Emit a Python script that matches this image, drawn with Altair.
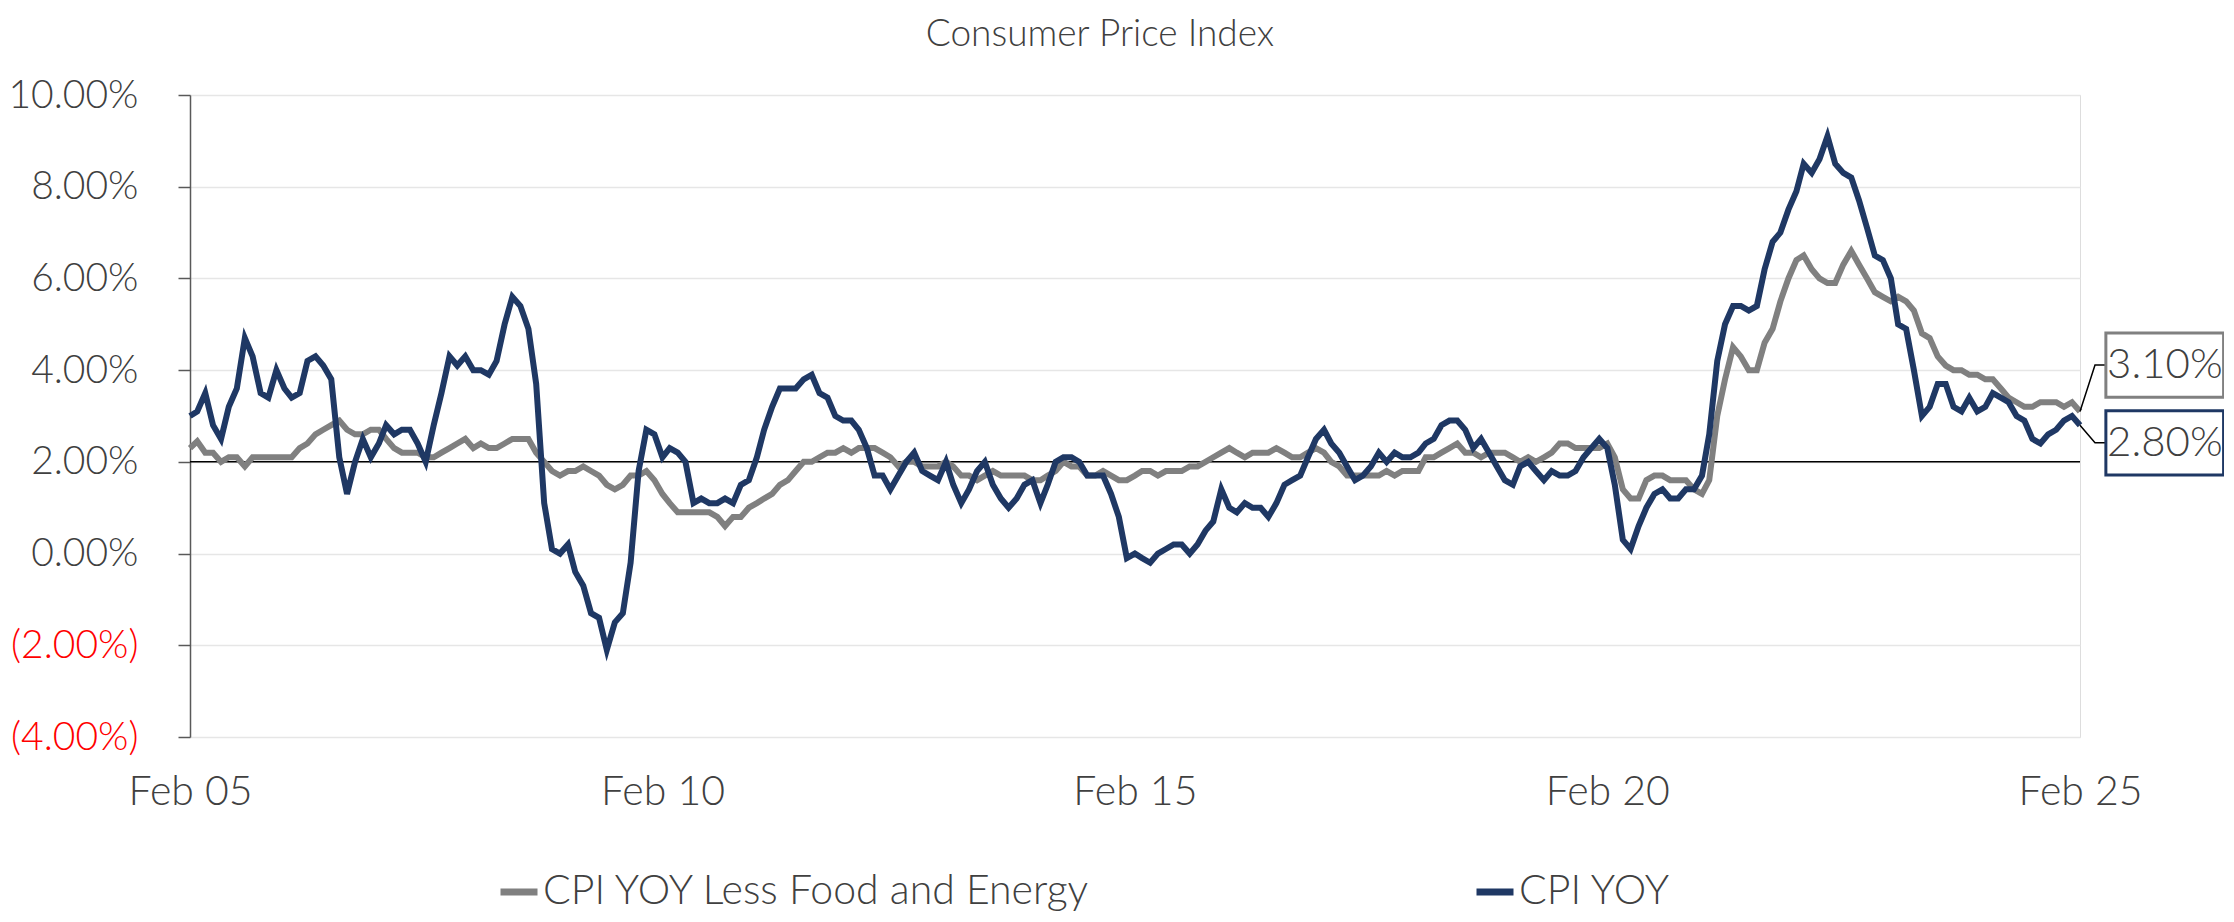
import altair as alt
import pandas as pd

TITLE = "Consumer Price Index"
SERIES = ["CPI YOY Less Food and Energy", "CPI YOY"]
COLORS = ["#808080", "#1F3864"]
START = "2005-02-01"
TICK_YEARS = [2005, 2010, 2015, 2020, 2025]
Y_TICKS = [-4, -2, 0, 2, 4, 6, 8, 10]

# CPI YoY (%), monthly Feb 2005 .. Feb 2025
cpi_yoy = [
    3.0, 3.1, 3.5, 2.8, 2.5, 3.2, 3.6, 4.7, 4.3, 3.5, 3.4,            # 2005 Feb-Dec
    4.0, 3.6, 3.4, 3.5, 4.2, 4.3, 4.1, 3.8, 2.1, 1.3, 2.0, 2.5,       # 2006
    2.1, 2.4, 2.8, 2.6, 2.7, 2.7, 2.4, 2.0, 2.8, 3.5, 4.3, 4.1,       # 2007
    4.3, 4.0, 4.0, 3.9, 4.2, 5.0, 5.6, 5.4, 4.9, 3.7, 1.1, 0.1,       # 2008
    0.0, 0.2, -0.4, -0.7, -1.3, -1.4, -2.1, -1.5, -1.3, -0.2, 1.8, 2.7,  # 2009
    2.6, 2.1, 2.3, 2.2, 2.0, 1.1, 1.2, 1.1, 1.1, 1.2, 1.1, 1.5,       # 2010
    1.6, 2.1, 2.7, 3.2, 3.6, 3.6, 3.6, 3.8, 3.9, 3.5, 3.4, 3.0,       # 2011
    2.9, 2.9, 2.7, 2.3, 1.7, 1.7, 1.4, 1.7, 2.0, 2.2, 1.8, 1.7,       # 2012
    1.6, 2.0, 1.5, 1.1, 1.4, 1.8, 2.0, 1.5, 1.2, 1.0, 1.2, 1.5,       # 2013
    1.6, 1.1, 1.5, 2.0, 2.1, 2.1, 2.0, 1.7, 1.7, 1.7, 1.3, 0.8,       # 2014
    -0.1, 0.0, -0.1, -0.2, 0.0, 0.1, 0.2, 0.2, 0.0, 0.2, 0.5, 0.7,    # 2015
    1.4, 1.0, 0.9, 1.1, 1.0, 1.0, 0.8, 1.1, 1.5, 1.6, 1.7, 2.1,       # 2016
    2.5, 2.7, 2.4, 2.2, 1.9, 1.6, 1.7, 1.9, 2.2, 2.0, 2.2, 2.1,       # 2017
    2.1, 2.2, 2.4, 2.5, 2.8, 2.9, 2.9, 2.7, 2.3, 2.5, 2.2, 1.9,       # 2018
    1.6, 1.5, 1.9, 2.0, 1.8, 1.6, 1.8, 1.7, 1.7, 1.8, 2.1, 2.3,       # 2019
    2.5, 2.3, 1.5, 0.3, 0.1, 0.6, 1.0, 1.3, 1.4, 1.2, 1.2, 1.4,       # 2020
    1.4, 1.7, 2.6, 4.2, 5.0, 5.4, 5.4, 5.3, 5.4, 6.2, 6.8, 7.0,       # 2021
    7.5, 7.9, 8.5, 8.3, 8.6, 9.1, 8.5, 8.3, 8.2, 7.7, 7.1, 6.5,       # 2022
    6.4, 6.0, 5.0, 4.9, 4.0, 3.0, 3.2, 3.7, 3.7, 3.2, 3.1, 3.4,       # 2023
    3.1, 3.2, 3.5, 3.4, 3.3, 3.0, 2.9, 2.5, 2.4, 2.6, 2.7, 2.9,       # 2024
    3.0, 2.8,                                                         # 2025 Jan-Feb
]

# Core CPI YoY (%), monthly Feb 2005 .. Feb 2025
core_yoy = [
    2.3, 2.45, 2.2, 2.2, 2.0, 2.1, 2.1, 1.9, 2.1, 2.1, 2.1,           # 2005 Feb-Dec
    2.1, 2.1, 2.1, 2.3, 2.4, 2.6, 2.7, 2.8, 2.9, 2.7, 2.6, 2.6,       # 2006
    2.7, 2.7, 2.5, 2.3, 2.2, 2.2, 2.2, 2.1, 2.1, 2.2, 2.3, 2.4,       # 2007
    2.5, 2.3, 2.4, 2.3, 2.3, 2.4, 2.5, 2.5, 2.5, 2.2, 2.0, 1.8,       # 2008
    1.7, 1.8, 1.8, 1.9, 1.8, 1.7, 1.5, 1.4, 1.5, 1.7, 1.7, 1.8,       # 2009
    1.6, 1.3, 1.1, 0.9, 0.9, 0.9, 0.9, 0.9, 0.8, 0.6, 0.8, 0.8,       # 2010
    1.0, 1.1, 1.2, 1.3, 1.5, 1.6, 1.8, 2.0, 2.0, 2.1, 2.2, 2.2,       # 2011
    2.3, 2.2, 2.3, 2.3, 2.3, 2.2, 2.1, 1.9, 2.0, 2.0, 1.9, 1.9,       # 2012
    1.9, 2.0, 1.9, 1.7, 1.7, 1.6, 1.7, 1.8, 1.7, 1.7, 1.7, 1.7,       # 2013
    1.6, 1.6, 1.7, 1.8, 2.0, 1.9, 1.9, 1.7, 1.7, 1.8, 1.7, 1.6,       # 2014
    1.6, 1.7, 1.8, 1.8, 1.7, 1.8, 1.8, 1.8, 1.9, 1.9, 2.0, 2.1,       # 2015
    2.2, 2.3, 2.2, 2.1, 2.2, 2.2, 2.2, 2.3, 2.2, 2.1, 2.1, 2.2,       # 2016
    2.3, 2.2, 2.0, 1.9, 1.7, 1.7, 1.7, 1.7, 1.7, 1.8, 1.7, 1.8,       # 2017
    1.8, 1.8, 2.1, 2.1, 2.2, 2.3, 2.4, 2.2, 2.2, 2.1, 2.2, 2.2,       # 2018
    2.2, 2.1, 2.0, 2.1, 2.0, 2.1, 2.2, 2.4, 2.4, 2.3, 2.3, 2.3,       # 2019
    2.3, 2.4, 2.1, 1.4, 1.2, 1.2, 1.6, 1.7, 1.7, 1.6, 1.6, 1.6,       # 2020
    1.4, 1.3, 1.6, 3.0, 3.8, 4.5, 4.3, 4.0, 4.0, 4.6, 4.9, 5.5,       # 2021
    6.0, 6.4, 6.5, 6.2, 6.0, 5.9, 5.9, 6.3, 6.6, 6.3, 6.0, 5.7,       # 2022
    5.6, 5.5, 5.6, 5.5, 5.3, 4.8, 4.7, 4.3, 4.1, 4.0, 4.0, 3.9,       # 2023
    3.9, 3.8, 3.8, 3.6, 3.4, 3.3, 3.2, 3.2, 3.3, 3.3, 3.3, 3.2,       # 2024
    3.3, 3.1,                                                         # 2025 Jan-Feb
]

FONT = "Lato"
WEIGHT = 300
TEXT_COLOR = "#404040"

dates = pd.date_range(START, periods=len(cpi_yoy), freq="MS")
df = pd.concat([
    pd.DataFrame({"date": dates, "value": core_yoy, "series": SERIES[0]}),
    pd.DataFrame({"date": dates, "value": cpi_yoy, "series": SERIES[1]}),
], ignore_index=True)

last_date = dates[-1]
last_vals = [core_yoy[-1], cpi_yoy[-1]]
centers = [last_vals[0] + 1.01, last_vals[1] - 0.385]

ann = pd.DataFrame({
    "series": SERIES,
    "label": [f"{v:.2f}%" for v in last_vals],
    "center": centers,
    "y1": [c - 0.70 for c in centers],
    "y2": [c + 0.70 for c in centers],
    "x1": [last_date + pd.Timedelta(days=100)] * 2,
    "x2": [last_date + pd.Timedelta(days=555)] * 2,
    "xt": [last_date + pd.Timedelta(days=328)] * 2,
})

leader_rows = []
for s, v, c in zip(SERIES, last_vals, centers):
    leader_rows += [
        {"series": s, "step": 0, "date": last_date, "value": v},
        {"series": s, "step": 1, "date": last_date + pd.Timedelta(days=58), "value": c},
        {"series": s, "step": 2, "date": last_date + pd.Timedelta(days=100), "value": c},
    ]
leaders = pd.DataFrame(leader_rows)

x_scale = alt.Scale(
    domain=[alt.DateTime(year=2005, month=2, date=1), alt.DateTime(year=2025, month=2, date=1)],
    nice=False,
)
y_scale = alt.Scale(domain=[-4, 10], nice=False, zero=False)
color_scale = alt.Scale(domain=SERIES, range=COLORS)

x_axis = alt.Axis(
    values=[alt.DateTime(year=y, month=2, date=1) for y in TICK_YEARS],
    format="%b %y", title=None, grid=False, ticks=False, domain=False,
    labelFont=FONT, labelFontWeight=WEIGHT, labelFontSize=41, labelColor=TEXT_COLOR,
    labelPadding=35, labelFlush=False, labelOverlap=False,
)
y_axis = alt.Axis(
    values=Y_TICKS, title=None,
    labelExpr="datum.value < 0 ? '(' + format(-datum.value, '.2f') + '%)' : format(datum.value, '.2f') + '%'",
    labelColor={"condition": {"test": "datum.value < 0", "value": "#ff0000"}, "value": TEXT_COLOR},
    labelFont=FONT, labelFontWeight=WEIGHT, labelFontSize=39, labelPadding=40,
    tickSize=12, tickColor="#595959", tickWidth=1.5,
    domainColor="#595959", domainWidth=1.5,
    grid=True, gridColor="#e6e6e6", gridWidth=1.5,
)

lines = alt.Chart(df).mark_line(strokeWidth=6).encode(
    x=alt.X("date:T", scale=x_scale, axis=x_axis),
    y=alt.Y("value:Q", scale=y_scale, axis=y_axis),
    color=alt.Color(
        "series:N", scale=color_scale, sort=SERIES,
        legend=alt.Legend(
            title=None, orient="none", legendX=307, legendY=775,
            direction="horizontal", symbolType="stroke", symbolSize=1369,
            symbolStrokeWidth=7, labelFont=FONT, labelFontWeight=WEIGHT,
            labelFontSize=41, labelColor=TEXT_COLOR, labelLimit=1200,
            columnPadding=370, labelOffset=2, padding=0,
        ),
    ),
)

base_rule = alt.Chart(pd.DataFrame({"y": [2]})).mark_rule(
    color="black", strokeWidth=1.5
).encode(y=alt.Y("y:Q", scale=y_scale))

leader_lines = alt.Chart(leaders).mark_line(color="black", strokeWidth=1.5).encode(
    x=alt.X("date:T", scale=x_scale),
    y=alt.Y("value:Q", scale=y_scale),
    detail="series:N",
    order="step:Q",
)

boxes = alt.Chart(ann).mark_rect(fill="white", strokeWidth=3).encode(
    x=alt.X("x1:T", scale=x_scale), x2="x2:T",
    y=alt.Y("y1:Q", scale=y_scale), y2="y2:Q",
    stroke=alt.Stroke("series:N", scale=color_scale, legend=None),
)

box_text = alt.Chart(ann).mark_text(
    font=FONT, fontWeight=WEIGHT, fontSize=42, color=TEXT_COLOR,
    align="center", baseline="middle"
).encode(
    x=alt.X("xt:T", scale=x_scale),
    y=alt.Y("center:Q", scale=y_scale),
    text="label:N",
)

chart = alt.layer(base_rule, lines, leader_lines, boxes, box_text).properties(
    width=1890, height=642,
    padding={"left": 182, "top": 87, "right": 144, "bottom": 177},
    autosize=alt.AutoSizeParams(type="none"),
    title=alt.TitleParams(
        TITLE, font=FONT, fontSize=37, fontWeight=WEIGHT, color=TEXT_COLOR,
        anchor="middle", dx=-35, offset=22,
    ),
).configure_view(stroke=None).configure(background="white")

chart.save("out.html", embed_options={"renderer": "svg", "actions": False})
